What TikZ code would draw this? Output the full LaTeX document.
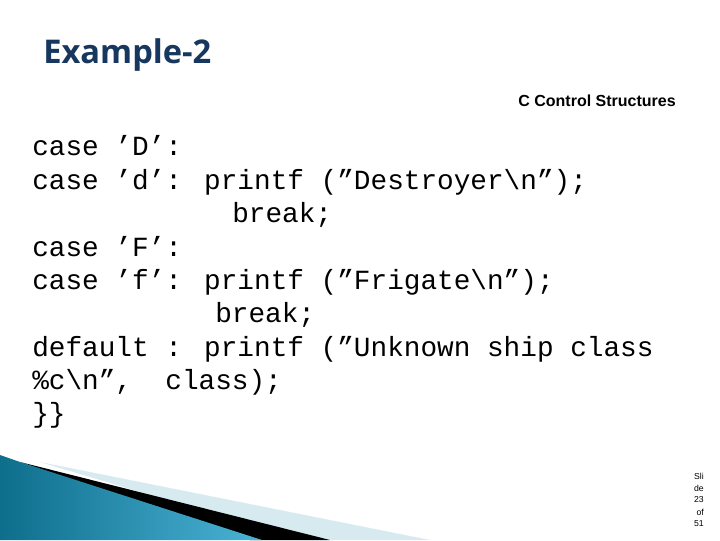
\documentclass[tikz,border=0pt]{standalone}
\usepackage{fontspec}
\setmainfont{Liberation Sans}
\newfontfamily\codefont{Liberation Mono}
\newfontfamily\titlefont{Open Sans}
\begin{document}
\begin{tikzpicture}[x=0.75pt,y=-0.75pt,
  codeline/.style={anchor=base west,inner sep=0pt,font=\codefont\fontsize{20.8}{24}\selectfont},
  small/.style={inner sep=0pt,font=\fontsize{6.5}{7}\selectfont}]
\useasboundingbox (0,0) rectangle (720,540);
\definecolor{titleblue}{HTML}{17375E}
\definecolor{teal1}{HTML}{0E6E8C}
\definecolor{teal2}{HTML}{4BB3D6}
\definecolor{pale}{HTML}{D6EAF0}
% decoration
\fill[pale] (40,462) -- (430,540) -- (300,540) -- cycle;
\fill[black] (20,462) -- (330,540) -- (250,540) -- cycle;
\shade[left color=teal1,right color=teal2] (0,455) -- (20,462) -- (262,540) -- (0,540) -- cycle;
\node[anchor=base west,inner sep=0pt,text=titleblue,font=\titlefont\bfseries\fontsize{24.5}{26}\selectfont] (title) at (43,63) {Example-2};
\node[anchor=base east,inner sep=0pt,font=\bfseries\fontsize{12}{14}\selectfont] (sub) at (676,106) {C Control Structures};
\node[codeline] (l1) at (32,155) {case ’D’:};
\node[codeline] (l2) at (32,189) {case ’d’: printf (”Destroyer\textbackslash n”);};
\node[codeline] (l3) at (232,222) {break;};
\node[codeline] (l4) at (32,256) {case ’F’:};
\node[codeline] (l5) at (32,289) {case ’f’: printf (”Frigate\textbackslash n”);};
\node[codeline] (l6) at (215,322) {break;};
\node[codeline] (l7) at (32,356) {default : printf (”Unknown ship class};
\node[codeline] (l8) at (32,389) {\%c\textbackslash n”,\ \ class);};
\node[codeline] (l9) at (32,422) {\}\}};
\node[small,anchor=east] (s1) at (704,476) {Sli};
\node[small,anchor=east] (s2) at (704,488) {de};
\node[small,anchor=east] (s3) at (704,500) {23};
\node[small,anchor=east] (s4) at (704,512) {of};
\node[small,anchor=east] (s5) at (704,524) {51};
\end{tikzpicture}
\end{document}
